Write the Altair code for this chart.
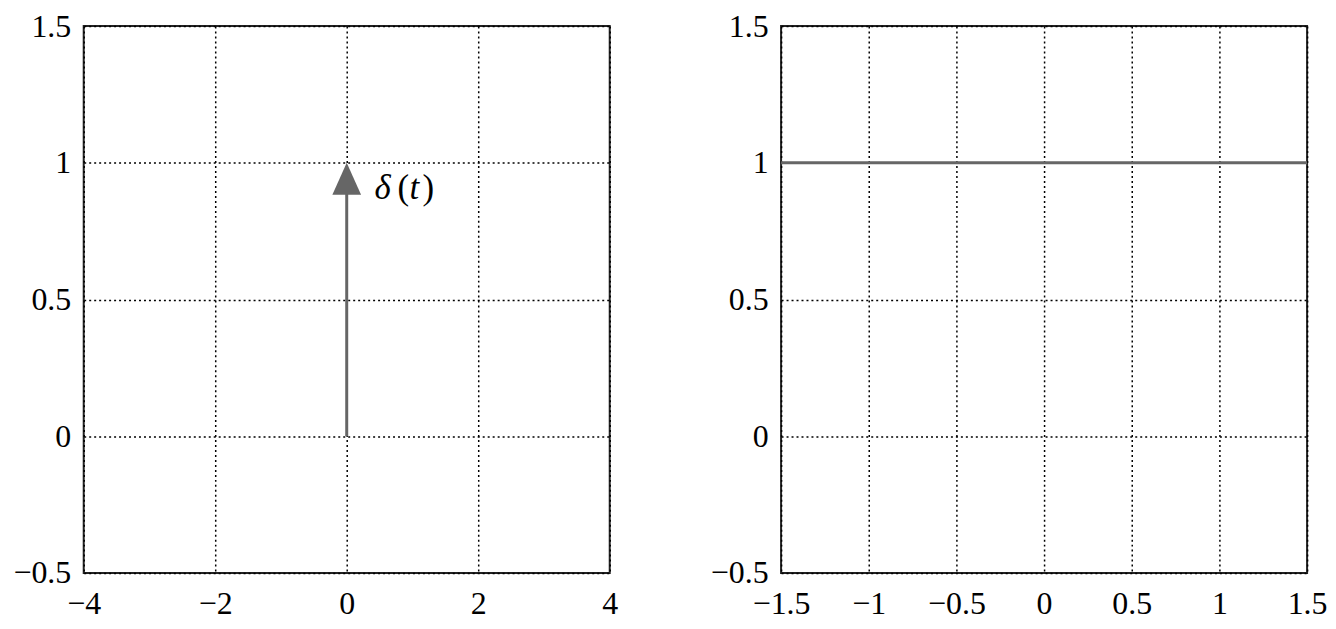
import altair as alt
import pandas as pd

# data
arrow_x = [0, 0]
arrow_y = [0, 0.92]
tip_x = [0]
tip_y = [1]
step_x = [-1.5, 1.5]
step_y = [1, 1]
left_xticks = [-4, -2, 0, 2, 4]
right_xticks = [-1.5, -1, -0.5, 0, 0.5, 1, 1.5]
yticks = [-0.5, 0, 0.5, 1, 1.5]
label_parts = ["δ", "(", "t", ")"]
label_styles = ["italic", "normal", "italic", "normal"]
label_dx = [28, 51, 63, 76]

FONT = "Liberation Serif"
GRAY = "#666666"
W, H = 528, 549
FS = 32

lab = "datum.value < 0 ? '\u2212' + (-datum.value) : '' + datum.value"

def yax():
    return alt.Axis(values=yticks, title=None, labelExpr=lab, grid=True, ticks=False,
                    domain=False, labelFont=FONT, labelFontSize=FS, labelColor="black",
                    labelPadding=13,
                    gridDash=[2, 3], gridColor="black", gridWidth=1.5, gridOpacity=1)

def xax(vals):
    return alt.Axis(values=vals, title=None, labelExpr=lab, grid=True, ticks=False,
                    domain=False, labelFont=FONT, labelFontSize=FS, labelColor="black",
                    labelPadding=16, labelFlush=False, labelOverlap=False,
                    gridDash=[2, 3], gridColor="black", gridWidth=1.5, gridOpacity=1)

ysc = alt.Scale(domain=[-0.5, 1.5], nice=False, zero=False)

dfa = pd.DataFrame({"x": arrow_x, "y": arrow_y})
dft = pd.DataFrame({"x": tip_x, "y": tip_y})
dfs = pd.DataFrame({"x": step_x, "y": step_y})

xl = alt.Scale(domain=[-4, 4], nice=False, zero=False)
shaft = alt.Chart(dfa).mark_line(color=GRAY, strokeWidth=3).encode(
    x=alt.X("x:Q", scale=xl, axis=xax(left_xticks)),
    y=alt.Y("y:Q", scale=ysc, axis=yax()),
)
head = alt.Chart(dft).mark_point(
    shape="M0,0L0.9,2L-0.9,2Z", size=1024, filled=True, color=GRAY, opacity=1
).encode(x=alt.X("x:Q", scale=xl), y=alt.Y("y:Q", scale=ysc))

texts = []
for t, s, d in zip(label_parts, label_styles, label_dx):
    texts.append(
        alt.Chart(dft).mark_text(text=t, font=FONT, fontSize=35, fontStyle=s,
                                 align="left", baseline="middle", dx=d, dy=25,
                                 color="black")
        .encode(x=alt.X("x:Q", scale=xl), y=alt.Y("y:Q", scale=ysc))
    )

left = alt.layer(shaft, head, *texts).properties(width=W, height=H)

xr = alt.Scale(domain=[-1.5, 1.5], nice=False, zero=False)
right = alt.Chart(dfs).mark_line(color=GRAY, strokeWidth=3).encode(
    x=alt.X("x:Q", scale=xr, axis=xax(right_xticks)),
    y=alt.Y("y:Q", scale=ysc, axis=yax()),
).properties(width=W, height=H)

chart = alt.hconcat(left, right, spacing=90).configure_view(
    stroke="#222222", strokeWidth=2
).properties(padding={"left": 3, "top": 0, "right": 0, "bottom": 0}, background="white")

chart.save("out.html", embed_options={"renderer": "svg", "actions": False})
